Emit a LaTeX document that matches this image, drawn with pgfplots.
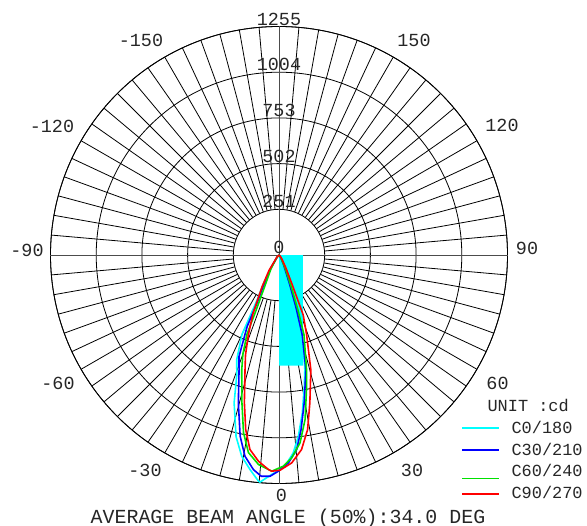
\documentclass[border=0pt]{standalone}
\usepackage{fontspec}
\setmainfont{Liberation Mono}
\usepackage{pgfplots}
\pgfplotsset{compat=1.18}
\usepgfplotslibrary{polar}

\definecolor{ccyan}{RGB}{0,255,255}
\definecolor{cblue}{RGB}{0,0,255}
\definecolor{cgreen}{RGB}{0,225,0}
\definecolor{cred}{RGB}{255,0,0}
\newcommand{\lab}{\fontsize{18.5}{20}\selectfont}
\newcommand{\leg}{\fontsize{17}{19}\selectfont}

% angles are given as in the photometric chart (0 = down, + to the right)
\pgfplotsset{deg/.style={x filter/.expression={x-90}}}

\begin{document}
\begin{tikzpicture}
\useasboundingbox (0,0) rectangle (587bp,526bp);
\begin{polaraxis}[
  at={(279bp,271bp)}, anchor=origin,
  width=457bp, height=457bp, scale only axis,
  ymin=0, ymax=1255,
  xtick=\empty,
  ytick={251,502,753,1004,1255},
  yticklabels={},
  xmajorgrids=false,
  ymajorgrids=true,
  major grid style={black, line width=0.8bp},
  axis line style={black, line width=0.8bp},
  major tick length=0pt,
  clip=false,
]
\pgfplotsinvokeforeach{0,5,...,355}{
  \draw[black, line width=0.8bp] (axis cs:#1,251) -- (axis cs:#1,1255);
}
\draw[black!70, line width=1bp] (axis cs:0,1255) -- (axis cs:180,1255);
\draw[black!70, line width=1bp] (axis cs:90,1255) -- (axis cs:270,1255);

\addplot[deg, fill=ccyan, draw=none] coordinates {(0,0) (90,131) (12.2,622) (0,608)};

% C0/180
\addplot[deg, ccyan, line width=1.6bp] coordinates {
(-90,0) (-40,20) (-33,70) (-28.5,180) (-26,270) (-25,480) (-22,620) (-19.4,697)
(-16.9,848) (-13.3,1025) (-10.5,1124) (-7.7,1189) (-5.2,1247) (-4.8,1252)
(-1.9,1206) (1.6,1161) (4.1,1090) (6.1,1001) (8.4,877) (10.9,735) (12.7,646)
(14,560) (16,400) (18,250) (20,150) (25,60) (30,25) (40,8) (90,0)};
% C30/210
\addplot[deg, cblue, line width=1.6bp] coordinates {
(-90,0) (-40,20) (-32,80) (-27,180) (-24.5,300) (-24,430) (-21.5,600) (-19.2,667)
(-15.4,841) (-12.1,1018) (-9.6,1121) (-6.8,1187) (-4.6,1219) (-2.3,1216)
(-0.2,1188) (2.6,1143) (5.2,1073) (7.2,967) (9.7,823) (13.2,647) (16.2,457)
(18,300) (20,170) (25,60) (30,25) (40,8) (90,0)};
% C60/240
\addplot[deg, cgreen, line width=1.6bp] coordinates {
(-90,0) (-40,20) (-30,90) (-25,170) (-22.5,330) (-22,470) (-20,580) (-18,662)
(-14.1,836) (-11.3,995) (-8.8,1098) (-5.6,1156) (-2.8,1180) (-1.9,1188)
(1.2,1160) (3.6,1116) (6.4,1038) (9,915) (11.9,737) (13.5,648) (17.4,459)
(19,320) (21,190) (25,80) (30,30) (40,8) (90,0)};
% C90/270
\addplot[deg, cred, line width=1.6bp] coordinates {
(-90,0) (-45,15) (-33,100) (-28,200) (-24,350) (-21,470) (-18.5,580) (-16.5,657)
(-13.2,833) (-10.8,976) (-8.5,1080) (-5.7,1138) (-2.8,1180) (-1.9,1188)
(0.3,1182) (3.5,1144) (6.6,1076) (9.3,972) (11.8,829) (15.5,654) (19.1,464)
(22,355) (24,180) (28,80) (35,30) (45,10) (90,0)};

\pgfplotsinvokeforeach{251,502,753,1004,1255}{
  \node[anchor=south, font=\lab, text=black!85, inner sep=1bp] at (axis cs:90,#1) {#1};
}
\node[anchor=south, font=\lab, text=black!85, inner sep=1bp] at (axis cs:0,0) {0};
\end{polaraxis}

% angle labels
\begin{scope}[every node/.style={font=\lab, text=black!85, inner sep=0pt}]
\node at (141bp,486bp) {-150};
\node at (414bp,486bp) {150};
\node at (52bp,400bp) {-120};
\node at (502bp,401bp) {120};
\node at (27bp,276bp) {-90};
\node at (527bp,278bp) {90};
\node at (58bp,142.5bp) {-60};
\node at (497.5bp,143bp) {60};
\node at (145bp,56bp) {-30};
\node at (412bp,56bp) {30};
\node at (281.5bp,30.5bp) {0};
\end{scope}

\node[anchor=west, font=\leg, text=black!85] at (484bp,121bp) {UNIT :cd};
\draw[ccyan, line width=2bp] (462bp,98bp) -- (499bp,98bp);
\node[anchor=west, font=\leg, text=black!85] at (508bp,99bp) {C0/180};
\draw[cblue, line width=1.5bp] (462bp,76bp) -- (499bp,76bp);
\node[anchor=west, font=\leg, text=black!85] at (508bp,77bp) {C30/210};
\draw[cgreen, line width=0.8bp] (462bp,48bp) -- (499bp,48bp);
\node[anchor=west, font=\leg, text=black!85] at (508bp,56bp) {C60/240};
\draw[cred, line width=1.5bp] (462bp,32bp) -- (499bp,32bp);
\node[anchor=west, font=\leg, text=black!85] at (508bp,34bp) {C90/270};
\node[anchor=base, font=\fontsize{20}{22}\selectfont, text=black!85, inner sep=0pt,
  text height=13bp, text depth=3bp] at (288bp,3bp) {AVERAGE BEAM ANGLE (50\%):34.0 DEG};
\end{tikzpicture}
\end{document}
